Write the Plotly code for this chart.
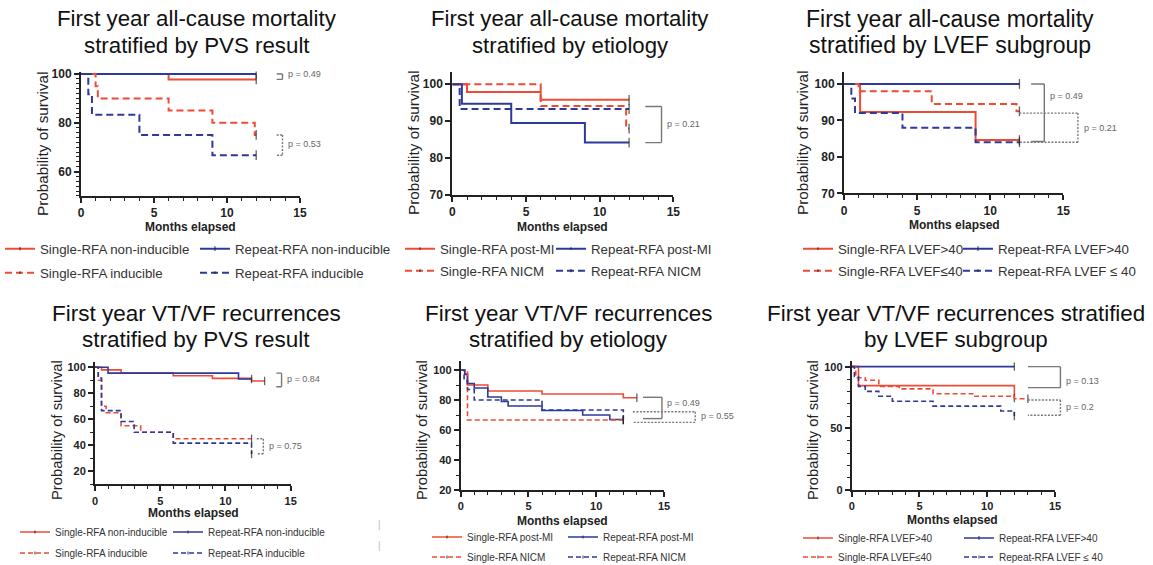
import plotly.graph_objects as go

# ---------------- DATA ----------------
months_ticks = [0, 5, 10, 15]

labels_pvs = ["Single-RFA non-inducible", "Repeat-RFA non-inducible",
              "Single-RFA inducible", "Repeat-RFA inducible"]
labels_etiology = ["Single-RFA post-MI", "Repeat-RFA post-MI",
                   "Single-RFA NICM", "Repeat-RFA NICM"]
labels_lvef = ["Single-RFA LVEF>40", "Repeat-RFA LVEF>40",
               "Single-RFA LVEF\u226440", "Repeat-RFA LVEF \u2264 40"]

titles = [
    "First year all-cause mortality<br>stratified by PVS result",
    "First year all-cause mortality<br>stratified by etiology",
    "First year all-cause mortality<br>stratified by LVEF subgroup",
    "First year VT/VF recurrences<br>stratified by PVS result",
    "First year VT/VF recurrences<br>stratified by etiology",
    "First year VT/VF recurrences stratified<br>by LVEF subgroup",
]

# Panel 1: mortality by PVS result
m_pvs_single_noninduc_t = [0, 6, 12]
m_pvs_single_noninduc_s = [100, 97.8, 97.8]
m_pvs_repeat_noninduc_t = [0, 12]
m_pvs_repeat_noninduc_s = [100, 100]
m_pvs_single_induc_t = [0, 1, 1.15, 6, 9, 11.9, 12]
m_pvs_single_induc_s = [100, 95, 90, 85, 80, 75, 75]
m_pvs_repeat_induc_t = [0, 0.5, 0.75, 4, 9, 12]
m_pvs_repeat_induc_s = [100, 91.7, 83.3, 75, 66.7, 66.7]

# Panel 2: mortality by etiology
m_eti_single_postmi_t = [0, 1, 6, 12]
m_eti_single_postmi_s = [100, 97.9, 95.8, 95.8]
m_eti_repeat_postmi_t = [0, 0.65, 4, 9, 12]
m_eti_repeat_postmi_s = [100, 94.7, 89.5, 84.2, 84.2]
m_eti_single_nicm_t = [0, 6, 11.8, 12]
m_eti_single_nicm_s = [100, 94.1, 88, 88]
m_eti_repeat_nicm_t = [0, 0.5, 12]
m_eti_repeat_nicm_s = [100, 93.3, 93.3]

# Panel 3: mortality by LVEF
m_lvef_single_hi_t = [0, 1.1, 9, 12]
m_lvef_single_hi_s = [100, 92.3, 84.6, 84.6]
m_lvef_repeat_hi_t = [0, 12]
m_lvef_repeat_hi_s = [100, 100]
m_lvef_single_lo_t = [0, 1, 6, 11.8, 12]
m_lvef_single_lo_s = [100, 98, 94.5, 92.5, 92.5]
m_lvef_repeat_lo_t = [0, 0.5, 0.75, 4, 9, 12]
m_lvef_repeat_lo_s = [100, 96, 92, 88, 84, 84]

# Panel 4: recurrences by PVS result
r_pvs_single_noninduc_t = [0, 0.5, 2, 6, 9, 12, 13]
r_pvs_single_noninduc_s = [100, 98, 95.5, 93.5, 91.5, 89.5, 89.5]
r_pvs_repeat_noninduc_t = [0, 1, 11, 12]
r_pvs_repeat_noninduc_s = [100, 95.5, 91, 91]
r_pvs_single_induc_t = [0, 0.25, 0.5, 0.85, 2, 3.5, 6, 12]
r_pvs_single_induc_s = [100, 90, 70, 65, 55, 50, 45, 45]
r_pvs_repeat_induc_t = [0, 0.25, 0.5, 2, 3, 6, 12]
r_pvs_repeat_induc_s = [100, 91.7, 66.7, 58.3, 50, 41.7, 33.3]

# Panel 5: recurrences by etiology
r_eti_single_postmi_t = [0, 0.3, 0.5, 2, 6, 12, 13]
r_eti_single_postmi_s = [100, 97.5, 90, 86, 84, 81.5, 81.5]
r_eti_repeat_postmi_t = [0, 0.3, 0.5, 1, 2, 3, 3.5, 6, 9, 11, 12]
r_eti_repeat_postmi_s = [100, 97, 91, 88, 82, 79, 76, 73, 70, 67, 67]
r_eti_single_nicm_t = [0, 0.5, 12]
r_eti_single_nicm_s = [100, 66.7, 66.7]
r_eti_repeat_nicm_t = [0, 0.25, 0.5, 1, 6, 12]
r_eti_repeat_nicm_s = [100, 93, 87, 80, 73.3, 66.7]

# Panel 6: recurrences by LVEF
r_lvef_single_hi_t = [0, 0.5, 12]
r_lvef_single_hi_s = [100, 84.6, 74.5]
r_lvef_repeat_hi_t = [0, 12]
r_lvef_repeat_hi_s = [100, 100]
r_lvef_single_lo_t = [0, 0.3, 1, 2, 3.5, 6, 9, 12, 13]
r_lvef_single_lo_s = [100, 91, 89, 84, 82, 78, 76, 74, 74]
r_lvef_repeat_lo_t = [0, 0.2, 0.5, 1, 2, 3, 6, 11, 12]
r_lvef_repeat_lo_s = [100, 92, 84, 80, 76, 72, 68, 64, 60]

# p-value brackets: (y_top, y_bottom, x_left, x_right, label, label_y, dotted)
brackets = [
    [(100, 97.8, 13.4, 13.8, "p = 0.49", 100, False), (75, 66.7, 13.4, 13.8, "p = 0.53", 71.5, True)],
    [(94, 84.2, 13.1, 14.2, "p = 0.21", 89.2, False)],
    [(100, 84.2, 12.8, 13.7, "p = 0.49", 96.6, False), (92, 84, 12.0, 16.0, "p = 0.21", 88, True)],
    [(95.5, 85, 13.9, 14.3, "p = 0.84", 91, False), (45, 33.5, 12.4, 12.9, "p = 0.75", 39.5, True)],
    [(81.8, 67.6, 13.45, 14.85, "p = 0.49", 77.7, False), (72.2, 65.1, 12.7, 17.3, "p = 0.55", 69.5, True)],
    [(100, 83, 13.0, 15.4, "p = 0.13", 88.4, False), (73, 60.6, 13.0, 15.4, "p = 0.2", 67, True)],
]

panels_data = [
    (labels_pvs, [(m_pvs_single_noninduc_t, m_pvs_single_noninduc_s), (m_pvs_repeat_noninduc_t, m_pvs_repeat_noninduc_s),
                  (m_pvs_single_induc_t, m_pvs_single_induc_s), (m_pvs_repeat_induc_t, m_pvs_repeat_induc_s)]),
    (labels_etiology, [(m_eti_single_postmi_t, m_eti_single_postmi_s), (m_eti_repeat_postmi_t, m_eti_repeat_postmi_s),
                       (m_eti_single_nicm_t, m_eti_single_nicm_s), (m_eti_repeat_nicm_t, m_eti_repeat_nicm_s)]),
    (labels_lvef, [(m_lvef_single_hi_t, m_lvef_single_hi_s), (m_lvef_repeat_hi_t, m_lvef_repeat_hi_s),
                   (m_lvef_single_lo_t, m_lvef_single_lo_s), (m_lvef_repeat_lo_t, m_lvef_repeat_lo_s)]),
    (labels_pvs, [(r_pvs_single_noninduc_t, r_pvs_single_noninduc_s), (r_pvs_repeat_noninduc_t, r_pvs_repeat_noninduc_s),
                  (r_pvs_single_induc_t, r_pvs_single_induc_s), (r_pvs_repeat_induc_t, r_pvs_repeat_induc_s)]),
    (labels_etiology, [(r_eti_single_postmi_t, r_eti_single_postmi_s), (r_eti_repeat_postmi_t, r_eti_repeat_postmi_s),
                       (r_eti_single_nicm_t, r_eti_single_nicm_s), (r_eti_repeat_nicm_t, r_eti_repeat_nicm_s)]),
    (labels_lvef, [(r_lvef_single_hi_t, r_lvef_single_hi_s), (r_lvef_repeat_hi_t, r_lvef_repeat_hi_s),
                   (r_lvef_single_lo_t, r_lvef_single_lo_s), (r_lvef_repeat_lo_t, r_lvef_repeat_lo_s)]),
]

# ---------------- LAYOUT / STYLE ----------------
W, H = 1153, 565
FONT = "Liberation Sans"
RED = "#EE4B36"
BLUE = "#2D3A9A"
GRAY = "#777777"
AX = "#222222"

def fx(px):
    return px / W

def fy(py):
    return 1 - py / H

panel_geom = [
    dict(x=(81, 300), y=(71.6, 195.9), yr=(50, 101), dt=20, mn=2, big=True),
    dict(x=(452.3, 673.3), y=(72.3, 195), yr=(70, 103.25), dt=10, mn=None, big=True),
    dict(x=(844, 1063.3), y=(72.3, 193.3), yr=(70, 103.2), dt=10, mn=None, big=True),
    dict(x=(95, 290.7), y=(361.7, 484.3), yr=(10, 104.3), dt=20, mn=10, big=False),
    dict(x=(460.7, 664), y=(361, 490), yr=(20, 106), dt=20, mn=10, big=False),
    dict(x=(851.7, 1055), y=(360.5, 490), yr=(0, 105), dt=50, mn=10, big=False),
]
title_x = [197, 570, 950, 196, 568, 956]
title_rows = [(19, 45), (19, 45), (19, 45), (313, 339), (313, 339), (313, 339)]
title_size = [22.3, 22.2, 23, 22.5, 22.4, 22.4]
ytitle_pos = [(42, 143), (413, 143), (802, 143), (57, 430), (422, 430), (813, 430)]
xtitle_pos = [(190, 227), (562, 227), (954, 225), (193, 513), (562, 521), (953, 520)]
legend_cols = [(37, 235), (440, 591), (838, 998), (55, 208), (467, 603), (838, 999)]
legend_rows = [(249, 273), (249, 271), (249, 271), (532, 553), (537, 557), (538, 557)]

fig = go.Figure()
annotations = []
shapes = []
legend_layouts = {}
leg_idx = 1

for i, (labels, series) in enumerate(panels_data):
    n = i + 1
    xa = "x" if n == 1 else f"x{n}"
    ya = "y" if n == 1 else f"y{n}"
    g = panel_geom[i]
    big = g["big"]
    lw = 2 if big else 1.6
    dash_pat = "7px,4px" if big else "5px,3px"
    styles = [(RED, "solid"), (BLUE, "solid"), (RED, dash_pat), (BLUE, dash_pat)]
    for k, ((t, s), lab) in enumerate(zip(series, labels)):
        col, dash = styles[k]
        leg_idx += 1
        lname = f"legend{leg_idx}"
        sizes = [0] * (len(t) - 1) + [7 if big else 6]
        fig.add_trace(go.Scatter(
            x=t, y=s, mode="lines+markers", line_shape="hv", name=lab,
            line=dict(color=col, width=lw, dash=dash),
            marker=dict(symbol="line-ns", size=sizes, color=AX,
                        line=dict(color=AX, width=1.3)),
            xaxis=xa, yaxis=ya, legend=lname, hoverinfo="skip"))
        colx = legend_cols[i][k % 2]
        rowy = legend_rows[i][k // 2]
        legend_layouts[lname] = dict(
            x=max(0.0, fx(colx - 40)), y=fy(rowy), xanchor="left", yanchor="middle",
            bgcolor="rgba(0,0,0,0)", borderwidth=0, itemwidth=30,
            font=dict(family=FONT, size=13.3 if big else 10, color="#333333"))

    tf = dict(family=FONT, size=12 if big else 11, color=AX, weight="bold")
    xdict = dict(domain=[fx(g["x"][0]), fx(g["x"][1])], range=[0, 15], anchor=ya,
                 tickmode="array", tickvals=months_ticks, ticks="outside", ticklen=5,
                 tickwidth=1.5, tickcolor=AX, showline=True, linecolor=AX, linewidth=2,
                 showgrid=False, zeroline=False, tickfont=tf, fixedrange=True,
                 minor=dict(dtick=1, ticks="outside", ticklen=3, tickwidth=1.2, tickcolor=AX))
    ydict = dict(domain=[fy(g["y"][1]), fy(g["y"][0])], range=list(g["yr"]), anchor=xa,
                 tick0=0, dtick=g["dt"], ticks="outside", ticklen=5, tickwidth=1.5, tickcolor=AX,
                 showline=True, linecolor=AX, linewidth=2, showgrid=False, zeroline=False,
                 tickfont=tf, fixedrange=True)
    if g["mn"]:
        ydict["minor"] = dict(dtick=g["mn"], ticks="outside", ticklen=3, tickwidth=1.2, tickcolor=AX)
    fig.update_layout(**{("xaxis" if n == 1 else f"xaxis{n}"): xdict,
                         ("yaxis" if n == 1 else f"yaxis{n}"): ydict})

    for line_text, ty in zip(titles[i].split("<br>"), title_rows[i]):
        annotations.append(dict(text=line_text, x=fx(title_x[i]), y=fy(ty), xref="paper",
                                yref="paper", showarrow=False, xanchor="center", yanchor="middle",
                                font=dict(family=FONT, size=title_size[i], color="#111111")))
    yx, yy = ytitle_pos[i]
    annotations.append(dict(text="Probability of survival", x=fx(yx), y=fy(yy), xref="paper",
                            yref="paper", showarrow=False, textangle=-90,
                            xanchor="center", yanchor="middle",
                            font=dict(family=FONT, size=15.3 if big else 14.8, color="#222222")))
    mx, my = xtitle_pos[i]
    annotations.append(dict(text="<b>Months elapsed</b>", x=fx(mx), y=fy(my), xref="paper",
                            yref="paper", showarrow=False, xanchor="center", yanchor="middle",
                            font=dict(family=FONT, size=12, color="#222222")))

    for (y1, y2, xl, xr, lab, ly, dotted) in brackets[i]:
        dom = f"{xa} domain"
        ln = dict(color=GRAY, width=1.4, dash="2px,1.5px" if dotted else "solid")
        for (xa0, ya0, xa1, ya1) in [(xl, y1, xr, y1), (xr, y1, xr, y2), (xr, y2, xl, y2)]:
            shapes.append(dict(type="line", xref=dom, yref=ya, x0=xa0 / 15, x1=xa1 / 15,
                               y0=ya0, y1=ya1, line=ln))
        annotations.append(dict(text=lab, xref=dom, yref=ya, x=(xr + 0.25) / 15, y=ly,
                                showarrow=False, xanchor="left", yanchor="middle",
                                font=dict(family=FONT, size=9, color="#666666")))

for yy in (532, 553):
    annotations.append(dict(text="|", x=fx(376), y=fy(yy), xref="paper", yref="paper",
                            showarrow=False, font=dict(family=FONT, size=10, color="#bbbbbb")))

fig.update_layout(width=W, height=H, autosize=False,
                  margin=dict(l=0, r=0, t=0, b=0, autoexpand=False),
                  paper_bgcolor="white", plot_bgcolor="white",
                  annotations=annotations, shapes=shapes, **legend_layouts)

fig.write_html("out.html", config={"displayModeBar": False},
               post_script="document.body.style.margin='0px';document.body.style.padding='0px';")
